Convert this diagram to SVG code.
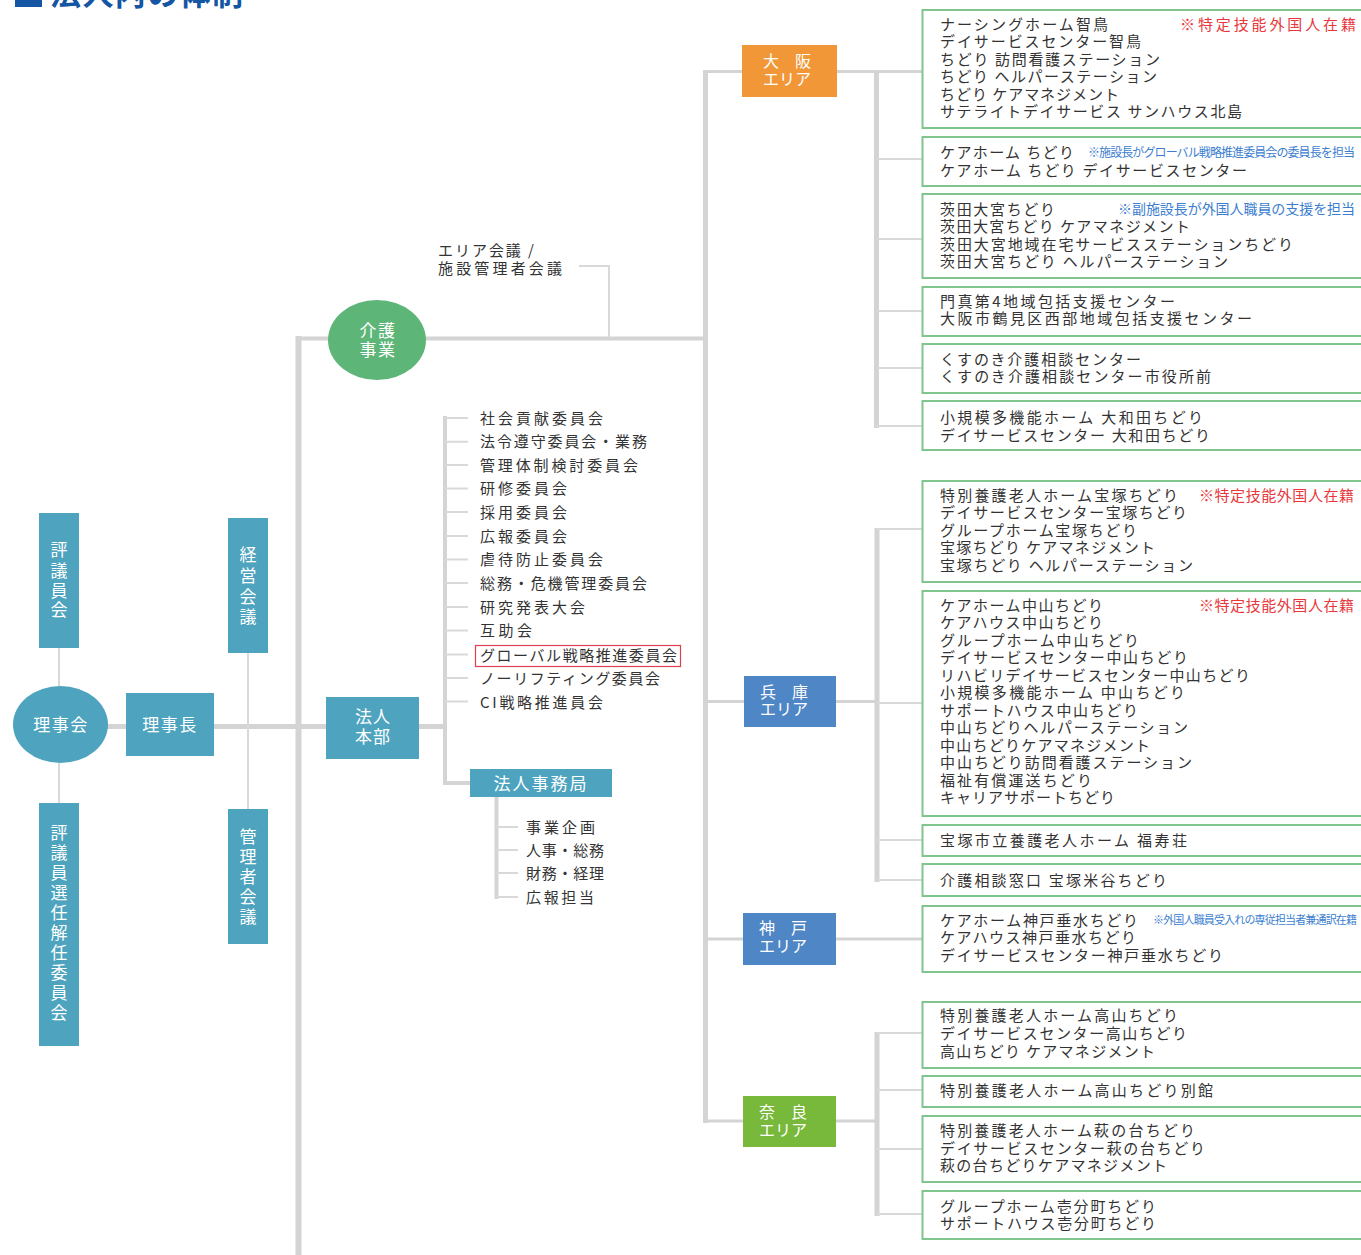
<svg xmlns="http://www.w3.org/2000/svg" width="1361" height="1255" viewBox="0 0 1361 1255">
<style>
text{font-family:"Noto Sans CJK JP","Noto Sans",sans-serif;}
.t{font-size:15px;fill:#333;}
.w{font-size:17px;fill:#fff;}
.a{font-size:16px;fill:#fff;}
.red{font-size:15px;fill:#e8383d;}
.blu{fill:#3b7ed0;}
.box{fill:#fff;stroke:#80c590;stroke-width:2;}
.k{stroke:#d4d4d4;fill:none;}
.n{stroke:#d9d9d9;stroke-width:2;fill:none;}
.teal{fill:#4ea4be;}
</style>
<rect width="1361" height="1255" fill="#fff"/>
<g id="title">
<rect x="15" y="-20" width="27" height="27" fill="#1455a4"/>
<text x="50" y="5" style="font-size:31px;font-weight:bold;fill:#1455a4" textLength="193">法人内の体制</text>
</g>
<g id="connectors">
<line class="k" x1="298.5" y1="336" x2="298.5" y2="1255" stroke-width="6"/>
<line class="k" x1="298" y1="338.5" x2="708" y2="338.5" stroke-width="4"/>
<line class="k" x1="705.5" y1="70" x2="705.5" y2="1123" stroke-width="5"/>
<line class="k" x1="705" y1="71.5" x2="922" y2="71.5" stroke-width="3"/>
<line class="k" x1="876.5" y1="70" x2="876.5" y2="428" stroke-width="5"/>
<line class="k" x1="705" y1="701.5" x2="877" y2="701.5" stroke-width="3"/>
<line class="k" x1="877" y1="528" x2="877" y2="882" stroke-width="5"/>
<line class="k" x1="705" y1="939" x2="922" y2="939" stroke-width="3"/>
<line class="k" x1="705" y1="1121" x2="877" y2="1121" stroke-width="3"/>
<line class="k" x1="877" y1="1032" x2="877" y2="1216" stroke-width="5"/>
<line class="k" x1="100" y1="726.5" x2="445" y2="726.5" stroke-width="5"/>
<line class="k" x1="445" y1="416" x2="445" y2="785" stroke-width="4"/>
<line class="k" x1="443" y1="783" x2="470" y2="783" stroke-width="4"/>
<line class="k" x1="496.5" y1="797" x2="496.5" y2="899" stroke-width="4"/>
<path class="n" d="M877 159H922M877 239H922M877 311H922M877 368H922M877 426H922"/>
<path class="n" d="M877 529H922M877 703H922M877 840H922M877 880H922"/>
<path class="n" d="M877 1033H922M877 1090H922M877 1149H922M877 1214H922"/>
<path class="n" d="M445 418H468M445 441.7H468M445 465H468M445 488.5H468M445 512H468M445 536H468M445 559.5H468M445 583H468M445 607H468M445 630.5H468M445 654.5H468M445 678H468M445 701.5H468"/>
<path class="n" d="M496 827H518M496 850H518M496 873H518M496 897H518"/>
<path class="n" d="M59 648V686M59 763V803"/>
<line class="n" x1="248" y1="653" x2="248" y2="809" stroke-width="2.5"/>
<path class="n" d="M579 266H609V338"/>
</g>
<g id="rijikai"><ellipse cx="60.5" cy="724.5" rx="47.5" ry="38.5" class="teal"/><text class="w" x="61" y="731" text-anchor="middle" letter-spacing="1.5">理事会</text></g>
<g id="rijicho"><rect x="126" y="693" width="88" height="63" class="teal"/><text class="w" x="170" y="731" text-anchor="middle" letter-spacing="1.5">理事長</text></g>
<g id="hyogiinkai"><rect x="39" y="513" width="40" height="135" class="teal"/>
<text class="w" text-anchor="middle"><tspan x="59" y="556">評</tspan><tspan x="59" y="577">議</tspan><tspan x="59" y="597">員</tspan><tspan x="59" y="616">会</tspan></text></g>
<g id="senin"><rect x="39" y="803" width="40" height="243" class="teal"/>
<text class="w" text-anchor="middle"><tspan x="59" y="839">評</tspan><tspan x="59" y="859">議</tspan><tspan x="59" y="879">員</tspan><tspan x="59" y="899">選</tspan><tspan x="59" y="919">任</tspan><tspan x="59" y="939">解</tspan><tspan x="59" y="959">任</tspan><tspan x="59" y="979">委</tspan><tspan x="59" y="999">員</tspan><tspan x="59" y="1019">会</tspan></text></g>
<g id="keiei"><rect x="228" y="518" width="40" height="135" class="teal"/>
<text class="w" text-anchor="middle"><tspan x="248" y="561">経</tspan><tspan x="248" y="582">営</tspan><tspan x="248" y="603">会</tspan><tspan x="248" y="623">議</tspan></text></g>
<g id="kanrisha"><rect x="228" y="809" width="40" height="135" class="teal"/>
<text class="w" text-anchor="middle"><tspan x="248" y="843">管</tspan><tspan x="248" y="863">理</tspan><tspan x="248" y="883">者</tspan><tspan x="248" y="903">会</tspan><tspan x="248" y="923">議</tspan></text></g>
<g id="honbu"><rect x="326" y="697" width="93" height="62" class="teal"/>
<text class="w" text-anchor="middle" letter-spacing="1"><tspan x="373" y="723">法人</tspan><tspan x="373" y="743">本部</tspan></text></g>
<g id="kaigo"><ellipse cx="377" cy="340" rx="49" ry="40" fill="#5db577"/>
<text class="w" text-anchor="middle" letter-spacing="1.5"><tspan x="378" y="337">介護</tspan><tspan x="378" y="356">事業</tspan></text></g>
<g id="areakaigi"><text class="t"><tspan x="438" y="256" textLength="96">エリア会議 /</tspan><tspan x="438" y="273.5" textLength="124">施設管理者会議</tspan></text></g>
<g id="committees">
<text class="t" x="480" y="423.5" textLength="123">社会貢献委員会</text>
<text class="t" x="480" y="447" textLength="167">法令遵守委員会・業務</text>
<text class="t" x="480" y="470.5" textLength="158">管理体制検討委員会</text>
<text class="t" x="480" y="494" textLength="87">研修委員会</text>
<text class="t" x="480" y="517.5" textLength="87">採用委員会</text>
<text class="t" x="480" y="541.5" textLength="87">広報委員会</text>
<text class="t" x="480" y="565" textLength="123">虐待防止委員会</text>
<text class="t" x="480" y="588.5" textLength="167">総務・危機管理委員会</text>
<text class="t" x="480" y="612.5" textLength="105">研究発表大会</text>
<text class="t" x="480" y="636" textLength="52">互助会</text>
<rect x="475.5" y="645.5" width="205" height="21" fill="none" stroke="#e0404c" stroke-width="1.2"/>
<text class="t" x="480" y="660.5" textLength="197">グローバル戦略推進委員会</text>
<text class="t" x="480" y="684" textLength="180">ノーリフティング委員会</text>
<text class="t" x="480" y="707.5" textLength="123">CI戦略推進員会</text>
</g>
<g id="jimukyoku"><rect x="470" y="769" width="142" height="28" class="teal"/><text class="w" x="541" y="790" text-anchor="middle" letter-spacing="2">法人事務局</text></g>
<g id="jimu-items">
<text class="t" x="526" y="832.5" textLength="69">事業企画</text>
<text class="t" x="526" y="855.5" textLength="78">人事・総務</text>
<text class="t" x="526" y="878.5" textLength="78">財務・経理</text>
<text class="t" x="526" y="902.5" textLength="68">広報担当</text>
</g>
<g id="osaka"><rect x="742" y="45" width="95" height="52" fill="#f29737"/><text class="a"><tspan x="763" y="67">大　阪</tspan><tspan x="763" y="85">エリア</tspan></text></g>
<g id="hyogo"><rect x="744" y="676" width="92" height="51" fill="#4f86c6"/><text class="a"><tspan x="760" y="697.5">兵　庫</tspan><tspan x="760" y="715">エリア</tspan></text></g>
<g id="kobe"><rect x="743" y="913" width="93" height="52" fill="#4f86c6"/><text class="a"><tspan x="759" y="934">神　戸</tspan><tspan x="759" y="952">エリア</tspan></text></g>
<g id="nara"><rect x="743" y="1096" width="93" height="51" fill="#78b83a"/><text class="a"><tspan x="759" y="1118">奈　良</tspan><tspan x="759" y="1135.5">エリア</tspan></text></g>
<g id="o1"><rect class="box" x="922.5" y="10" width="450" height="118"/>
<text class="t"><tspan x="940" y="29.5" textLength="168">ナーシングホーム智鳥</tspan><tspan x="940" y="47" textLength="201">デイサービスセンター智鳥</tspan><tspan x="940" y="64.5" textLength="220">ちどり 訪問看護ステーション</tspan><tspan x="940" y="82" textLength="217">ちどり ヘルパーステーション</tspan><tspan x="940" y="99.5" textLength="179">ちどり ケアマネジメント</tspan><tspan x="940" y="117" textLength="302">サテライトデイサービス サンハウス北島</tspan></text>
<text class="red" x="1180" y="29.5" textLength="176">※特定技能外国人在籍</text></g>
<g id="o2"><rect class="box" x="922.5" y="137" width="450" height="49"/>
<text class="t"><tspan x="940" y="157.5" textLength="134">ケアホーム ちどり</tspan><tspan x="940" y="175.5" textLength="307">ケアホーム ちどり デイサービスセンター</tspan></text>
<text class="blu" x="1088" y="156.5" style="font-size:12px" textLength="267">※施設長がグローバル戦略推進委員会の委員長を担当</text></g>
<g id="o3"><rect class="box" x="922.5" y="194" width="450" height="84"/>
<text class="t"><tspan x="940" y="214.5" textLength="115">茨田大宮ちどり</tspan><tspan x="940" y="232" textLength="250">茨田大宮ちどり ケアマネジメント</tspan><tspan x="940" y="249.5" textLength="353">茨田大宮地域在宅サービスステーションちどり</tspan><tspan x="940" y="267" textLength="288">茨田大宮ちどり ヘルパーステーション</tspan></text>
<text class="blu" x="1118" y="214" style="font-size:14px" textLength="237">※副施設長が外国人職員の支援を担当</text></g>
<g id="o4"><rect class="box" x="922.5" y="287" width="450" height="49"/>
<text class="t"><tspan x="940" y="307" textLength="235">門真第4地域包括支援センター</tspan><tspan x="940" y="324" textLength="312">大阪市鶴見区西部地域包括支援センター</tspan></text></g>
<g id="o5"><rect class="box" x="922.5" y="344" width="450" height="49"/>
<text class="t"><tspan x="940" y="365" textLength="201">くすのき介護相談センター</tspan><tspan x="940" y="382" textLength="271">くすのき介護相談センター市役所前</tspan></text></g>
<g id="o6"><rect class="box" x="922.5" y="401" width="450" height="49"/>
<text class="t"><tspan x="940" y="423" textLength="263">小規模多機能ホーム 大和田ちどり</tspan><tspan x="940" y="440.5" textLength="270">デイサービスセンター 大和田ちどり</tspan></text></g>
<g id="h1"><rect class="box" x="922.5" y="481" width="450" height="101"/>
<text class="t"><tspan x="940" y="500.5" textLength="238">特別養護老人ホーム宝塚ちどり</tspan><tspan x="940" y="518" textLength="247">デイサービスセンター宝塚ちどり</tspan><tspan x="940" y="535.5" textLength="197">グループホーム宝塚ちどり</tspan><tspan x="940" y="553" textLength="215">宝塚ちどり ケアマネジメント</tspan><tspan x="940" y="570.5" textLength="253">宝塚ちどり ヘルパーステーション</tspan></text>
<text class="red" x="1199" y="500.5" textLength="155">※特定技能外国人在籍</text></g>
<g id="h2"><rect class="box" x="922.5" y="591" width="450" height="225"/>
<text class="t"><tspan x="940" y="610.5" textLength="163">ケアホーム中山ちどり</tspan><tspan x="940" y="628" textLength="163">ケアハウス中山ちどり</tspan><tspan x="940" y="645.5" textLength="199">グループホーム中山ちどり</tspan><tspan x="940" y="663" textLength="248">デイサービスセンター中山ちどり</tspan><tspan x="940" y="680.5" textLength="310">リハビリデイサービスセンター中山ちどり</tspan><tspan x="940" y="698" textLength="245">小規模多機能ホーム 中山ちどり</tspan><tspan x="940" y="715.5" textLength="198">サポートハウス中山ちどり</tspan><tspan x="940" y="733" textLength="248">中山ちどりヘルパーステーション</tspan><tspan x="940" y="750.5" textLength="210">中山ちどりケアマネジメント</tspan><tspan x="940" y="768" textLength="252">中山ちどり訪問看護ステーション</tspan><tspan x="940" y="785.5" textLength="152">福祉有償運送ちどり</tspan><tspan x="940" y="803" textLength="175">キャリアサポートちどり</tspan></text>
<text class="red" x="1199" y="610.5" textLength="155">※特定技能外国人在籍</text></g>
<g id="h3"><rect class="box" x="922.5" y="825" width="450" height="31"/>
<text class="t" x="940" y="845.5" textLength="247">宝塚市立養護老人ホーム 福寿荘</text></g>
<g id="h4"><rect class="box" x="922.5" y="864" width="450" height="32"/>
<text class="t" x="940" y="885.5" textLength="227">介護相談窓口 宝塚米谷ちどり</text></g>
<g id="k1"><rect class="box" x="922.5" y="906" width="450" height="66"/>
<text class="t"><tspan x="940" y="925.5" textLength="198">ケアホーム神戸垂水ちどり</tspan><tspan x="940" y="943" textLength="196">ケアハウス神戸垂水ちどり</tspan><tspan x="940" y="960.5" textLength="283">デイサービスセンター神戸垂水ちどり</tspan></text>
<text class="blu" x="1153" y="924" style="font-size:11px" textLength="204">※外国人職員受入れの専従担当者兼通訳在籍</text></g>
<g id="n1"><rect class="box" x="922.5" y="1002" width="450" height="66"/>
<text class="t"><tspan x="940" y="1020.5" textLength="238">特別養護老人ホーム高山ちどり</tspan><tspan x="940" y="1038.5" textLength="247">デイサービスセンター高山ちどり</tspan><tspan x="940" y="1056.5" textLength="215">高山ちどり ケアマネジメント</tspan></text></g>
<g id="n2"><rect class="box" x="922.5" y="1076" width="450" height="31"/>
<text class="t" x="940" y="1095.5" textLength="273">特別養護老人ホーム高山ちどり別館</text></g>
<g id="n3"><rect class="box" x="922.5" y="1116" width="450" height="66"/>
<text class="t"><tspan x="940" y="1135.5" textLength="255">特別養護老人ホーム萩の台ちどり</tspan><tspan x="940" y="1153.5" textLength="265">デイサービスセンター萩の台ちどり</tspan><tspan x="940" y="1171" textLength="227">萩の台ちどりケアマネジメント</tspan></text></g>
<g id="n4"><rect class="box" x="922.5" y="1191" width="450" height="48"/>
<text class="t"><tspan x="940" y="1212" textLength="216">グループホーム壱分町ちどり</tspan><tspan x="940" y="1229" textLength="216">サポートハウス壱分町ちどり</tspan></text></g>
</svg>
